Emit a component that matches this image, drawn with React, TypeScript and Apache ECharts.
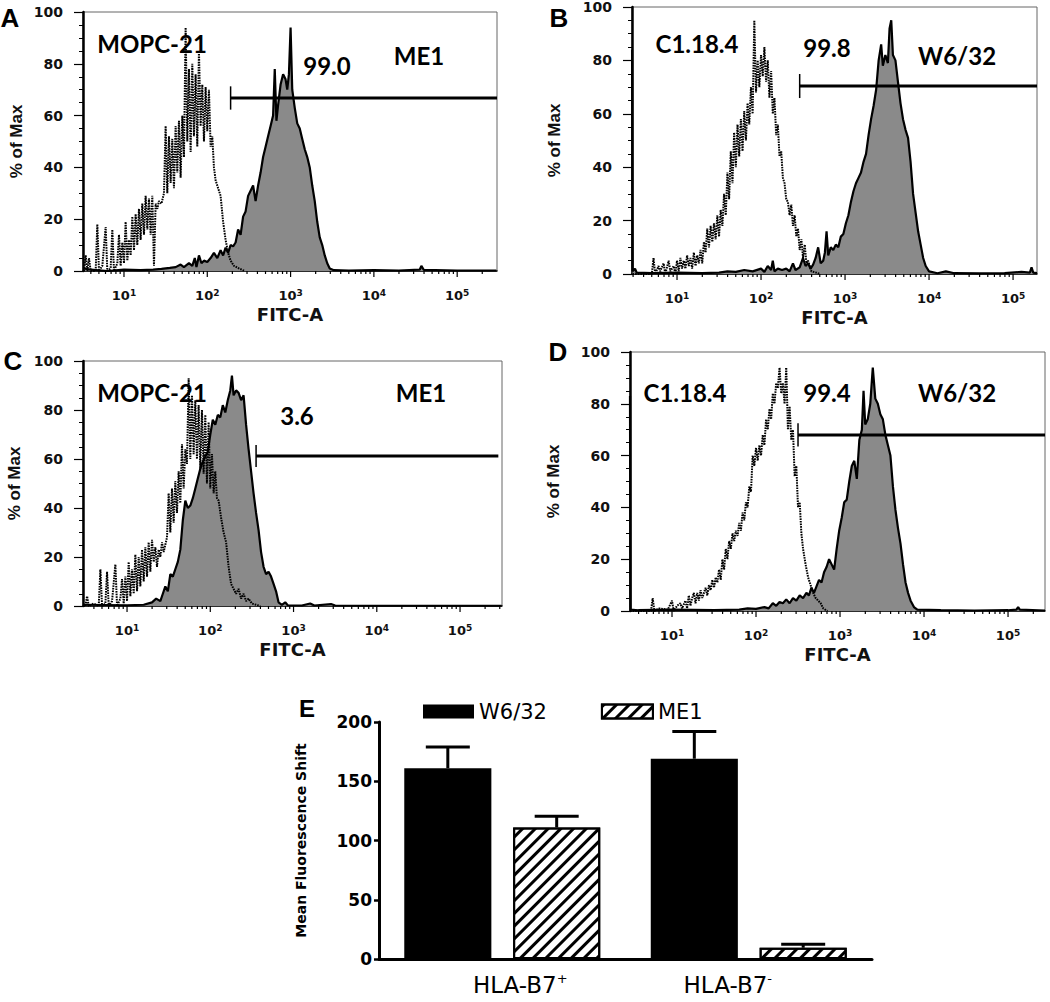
import React, { useEffect, useRef } from 'react';
import * as echarts from 'echarts';

// ---------- Histogram data: [log10(FITC-A), % of Max] ----------
// Panel A isotype (MOPC-21, dotted)
const isoA: number[][] = [
  [0.52, 0], [0.54, 6], [0.56, 0], [0.58, 5], [0.60, 0], [0.66, 0], [0.68, 18], [0.70, 0], [0.74, 2], [0.78, 17],
  [0.80, 0], [0.84, 1], [0.86, 16], [0.88, 0], [0.92, 3], [0.94, 14], [0.96, 2], [0.98, 11], [1.00, 3], [1.02, 19],
  [1.04, 4], [1.06, 12], [1.08, 6], [1.10, 21], [1.12, 8], [1.14, 22], [1.16, 10], [1.18, 24], [1.20, 12], [1.22, 26],
  [1.24, 14], [1.26, 29], [1.28, 16], [1.30, 28], [1.32, 14], [1.34, 29], [1.36, 2], [1.38, 26], [1.40, 24], [1.42, 27],
  [1.45, 26], [1.48, 30], [1.50, 56], [1.52, 30], [1.54, 52], [1.56, 34], [1.58, 51], [1.60, 32], [1.62, 56], [1.64, 38],
  [1.66, 58], [1.68, 36], [1.70, 60], [1.72, 44], [1.74, 94], [1.76, 50], [1.78, 78], [1.80, 46], [1.82, 80], [1.84, 52],
  [1.86, 76], [1.88, 48], [1.90, 85], [1.92, 56], [1.94, 72], [1.96, 50], [1.98, 71], [2.00, 54], [2.02, 70], [2.04, 48],
  [2.06, 52], [2.08, 40], [2.10, 35], [2.13, 32], [2.16, 29], [2.19, 19], [2.22, 12], [2.25, 7], [2.28, 4], [2.32, 2],
  [2.38, 1], [2.45, 0],
];
// Panel A specific (ME1, filled)
const specA: number[][] = [
  [0.52, 1], [0.6, 0.5], [0.8, 0], [1.0, 0.5], [1.2, 0.3], [1.35, 0.5], [1.45, 0.8], [1.55, 1.2], [1.62, 1.5], [1.68, 2.5],
  [1.72, 1.5], [1.78, 3], [1.82, 2], [1.85, 5], [1.87, 1.5], [1.9, 6], [1.93, 3], [1.96, 4], [2.0, 3.5], [2.04, 5],
  [2.08, 7], [2.12, 5], [2.16, 8], [2.19, 6], [2.22, 9], [2.25, 7], [2.28, 10], [2.31, 9.5], [2.34, 11], [2.37, 16],
  [2.40, 14], [2.43, 21], [2.46, 23], [2.49, 29], [2.52, 31], [2.55, 33], [2.58, 27], [2.61, 33], [2.64, 38], [2.67, 44],
  [2.70, 48], [2.73, 52], [2.76, 56], [2.79, 60], [2.81, 78], [2.83, 58], [2.85, 64], [2.88, 72], [2.91, 76], [2.94, 74],
  [2.96, 70], [2.98, 76], [3.00, 94], [3.02, 70], [3.05, 63], [3.08, 57], [3.11, 55], [3.14, 51], [3.17, 47], [3.20, 44],
  [3.23, 40], [3.26, 33], [3.29, 27], [3.32, 19], [3.35, 13], [3.38, 10], [3.41, 6], [3.44, 3], [3.47, 1], [3.52, 0.3],
  [3.7, 0.2], [4.0, 0.3], [4.3, 0.2], [4.55, 0.5], [4.57, 2], [4.6, 0.4], [5.0, 0.2], [5.47, 0.2],
];
// Panel B isotype (C1.18.4, dotted)
const isoB: number[][] = [
  [0.47, 0], [0.7, 0], [0.72, 6], [0.74, 0], [0.78, 3], [0.80, 1], [0.84, 4], [0.86, 0], [0.90, 5], [0.92, 1],
  [0.96, 3], [0.98, 0], [1.00, 5], [1.02, 1], [1.04, 6], [1.06, 2], [1.08, 5], [1.10, 2], [1.12, 7], [1.14, 3],
  [1.16, 6], [1.18, 2], [1.20, 8], [1.22, 3], [1.24, 7], [1.26, 4], [1.28, 9], [1.30, 4], [1.32, 12], [1.34, 8],
  [1.36, 17], [1.38, 10], [1.40, 18], [1.42, 12], [1.44, 19], [1.46, 13], [1.48, 22], [1.50, 14], [1.52, 24], [1.54, 18],
  [1.56, 30], [1.58, 22], [1.60, 38], [1.62, 28], [1.64, 46], [1.66, 34], [1.68, 53], [1.70, 40], [1.72, 56], [1.74, 44],
  [1.76, 58], [1.78, 46], [1.80, 61], [1.82, 50], [1.84, 64], [1.86, 56], [1.88, 70], [1.90, 60], [1.92, 95], [1.94, 68],
  [1.96, 80], [1.98, 70], [2.00, 82], [2.02, 74], [2.04, 85], [2.06, 72], [2.08, 80], [2.10, 66], [2.12, 76], [2.14, 60],
  [2.16, 66], [2.18, 52], [2.20, 56], [2.22, 44], [2.24, 46], [2.26, 36], [2.28, 34], [2.30, 28], [2.32, 27], [2.34, 22],
  [2.36, 26], [2.38, 18], [2.40, 22], [2.42, 14], [2.44, 17], [2.46, 9], [2.48, 13], [2.50, 6], [2.52, 11], [2.54, 4],
  [2.56, 5], [2.6, 1], [2.66, 0.5], [2.7, 0],
];
// Panel B specific (W6/32, filled)
const specB: number[][] = [
  [0.465, 84], [0.47, 1], [0.5, 2], [0.52, 0.5], [0.7, 0.3], [1.0, 0.5], [1.3, 0.3], [1.5, 0.5], [1.6, 1], [1.7, 0.8],
  [1.8, 1.5], [1.9, 1], [2.0, 2], [2.04, 0.8], [2.08, 3], [2.12, 1.5], [2.14, 5], [2.16, 1], [2.2, 2], [2.25, 1.5],
  [2.3, 2], [2.34, 1], [2.38, 4], [2.41, 1.5], [2.46, 2.5], [2.50, 6], [2.53, 3], [2.56, 4], [2.59, 2], [2.62, 3.5],
  [2.65, 6], [2.68, 10], [2.71, 4], [2.74, 5], [2.76, 8], [2.78, 16], [2.80, 7], [2.83, 10], [2.86, 9], [2.89, 11],
  [2.92, 10], [2.95, 14], [2.98, 15], [3.01, 19], [3.04, 22], [3.07, 27], [3.10, 31], [3.13, 34], [3.16, 36], [3.19, 38],
  [3.22, 42], [3.25, 45], [3.28, 52], [3.31, 58], [3.34, 63], [3.37, 69], [3.40, 80], [3.43, 86], [3.45, 78], [3.48, 82],
  [3.51, 79], [3.53, 92], [3.55, 95], [3.57, 82], [3.60, 80], [3.63, 72], [3.66, 64], [3.69, 58], [3.72, 54], [3.75, 51],
  [3.78, 42], [3.81, 30], [3.84, 23], [3.87, 16], [3.90, 11], [3.93, 6], [3.96, 3], [4.0, 1], [4.1, 0.3], [4.2, 1],
  [4.3, 0.3], [4.6, 0.2], [4.9, 0.3], [5.1, 0.8], [5.2, 0.5], [5.22, 2.5], [5.24, 0.5], [5.285, 0.3],
];
// Panel C isotype (MOPC-21, dotted)
const isoC: number[][] = [
  [0.47, 0], [0.50, 0], [0.52, 4], [0.54, 0], [0.6, 1], [0.66, 0], [0.68, 15], [0.70, 0], [0.74, 1], [0.76, 14],
  [0.78, 0], [0.82, 2], [0.86, 17], [0.88, 0], [0.92, 3], [0.94, 11], [0.96, 1], [0.98, 12], [1.00, 2], [1.02, 18],
  [1.04, 4], [1.06, 15], [1.08, 5], [1.10, 21], [1.12, 6], [1.14, 20], [1.16, 8], [1.18, 23], [1.20, 10], [1.22, 24],
  [1.24, 12], [1.26, 26], [1.28, 14], [1.30, 27], [1.32, 18], [1.34, 24], [1.36, 16], [1.38, 23], [1.40, 20], [1.42, 26],
  [1.44, 22], [1.46, 25], [1.48, 28], [1.50, 46], [1.52, 30], [1.54, 48], [1.56, 34], [1.58, 51], [1.60, 38], [1.62, 55],
  [1.64, 42], [1.66, 66], [1.68, 48], [1.70, 64], [1.72, 58], [1.74, 93], [1.76, 60], [1.78, 86], [1.80, 62], [1.82, 84],
  [1.84, 60], [1.86, 82], [1.88, 56], [1.90, 80], [1.92, 54], [1.94, 78], [1.96, 50], [1.98, 75], [2.00, 48], [2.02, 62],
  [2.04, 46], [2.06, 55], [2.08, 44], [2.10, 43], [2.13, 36], [2.16, 30], [2.19, 26], [2.22, 16], [2.25, 9], [2.28, 7],
  [2.31, 5], [2.34, 7], [2.37, 3], [2.40, 5], [2.43, 2], [2.46, 3], [2.5, 1], [2.55, 0.5], [2.6, 0],
];
// Panel C specific (ME1, filled)
const specC: number[][] = [
  [0.47, 0.5], [1.0, 0.3], [1.2, 0.5], [1.3, 1.5], [1.35, 3], [1.40, 2], [1.43, 5], [1.46, 8], [1.49, 6], [1.52, 13],
  [1.55, 12], [1.58, 15], [1.61, 18], [1.64, 23], [1.67, 35], [1.70, 43], [1.73, 40], [1.76, 41], [1.79, 44], [1.82, 48],
  [1.85, 52], [1.88, 56], [1.91, 59], [1.94, 61], [1.97, 63], [2.00, 70], [2.03, 76], [2.06, 74], [2.09, 78], [2.12, 77],
  [2.15, 82], [2.18, 79], [2.21, 84], [2.24, 88], [2.26, 94], [2.28, 86], [2.31, 88], [2.34, 87], [2.37, 84], [2.40, 86],
  [2.43, 74], [2.46, 64], [2.49, 55], [2.52, 46], [2.55, 38], [2.58, 31], [2.61, 22], [2.64, 16], [2.67, 13], [2.70, 14],
  [2.73, 12], [2.76, 9], [2.79, 6], [2.82, 1.5], [2.86, 0.5], [2.9, 1.5], [2.93, 0.3], [3.1, 0.2], [3.2, 1], [3.25, 0.2],
  [3.45, 0.8], [3.5, 0.2], [4.0, 0.1], [5.5, 0.1],
];
// Panel D isotype (C1.18.4, dotted)
const isoD: number[][] = [
  [0.5, 0], [0.75, 0], [0.77, 5], [0.79, 0], [0.85, 1], [0.95, 0.5], [1.00, 4], [1.02, 0], [1.06, 2], [1.10, 3],
  [1.12, 1], [1.16, 4], [1.18, 1], [1.20, 6], [1.22, 2], [1.24, 5], [1.26, 7], [1.28, 3], [1.30, 7], [1.32, 4],
  [1.34, 8], [1.36, 5], [1.38, 7], [1.40, 9], [1.42, 6], [1.44, 10], [1.46, 8], [1.48, 12], [1.50, 9], [1.52, 13],
  [1.54, 11], [1.56, 16], [1.58, 12], [1.60, 20], [1.62, 16], [1.64, 24], [1.66, 20], [1.68, 27], [1.70, 24], [1.72, 30],
  [1.74, 27], [1.76, 31], [1.78, 29], [1.80, 34], [1.82, 31], [1.84, 38], [1.86, 35], [1.88, 42], [1.90, 40], [1.92, 48],
  [1.94, 46], [1.96, 60], [1.98, 56], [2.00, 63], [2.02, 58], [2.04, 64], [2.06, 60], [2.08, 68], [2.10, 64], [2.12, 74],
  [2.14, 70], [2.16, 78], [2.18, 74], [2.20, 84], [2.22, 80], [2.24, 88], [2.26, 86], [2.28, 94], [2.30, 84], [2.32, 88],
  [2.34, 80], [2.36, 94], [2.38, 70], [2.40, 79], [2.42, 66], [2.44, 70], [2.46, 52], [2.48, 56], [2.50, 40], [2.52, 42],
  [2.54, 30], [2.56, 24], [2.59, 18], [2.62, 13], [2.65, 10], [2.68, 7], [2.71, 5], [2.74, 4], [2.77, 3], [2.8, 1],
  [2.85, 0],
];
// Panel D specific (W6/32, filled)
const specD: number[][] = [
  [0.5, 83], [0.505, 0.5], [0.6, 0.3], [1.0, 0.5], [1.5, 0.3], [1.8, 0.5], [1.9, 1], [2.0, 0.8], [2.1, 1.5], [2.15, 1],
  [2.2, 3], [2.24, 2], [2.28, 3.5], [2.32, 3], [2.36, 4.5], [2.40, 3], [2.44, 5], [2.48, 4], [2.52, 6], [2.56, 5],
  [2.60, 7], [2.63, 6], [2.66, 9], [2.69, 7], [2.72, 9.5], [2.75, 12], [2.78, 11], [2.81, 15], [2.84, 17], [2.87, 20],
  [2.90, 18], [2.93, 16], [2.96, 24], [2.99, 31], [3.02, 36], [3.05, 42], [3.08, 43], [3.11, 50], [3.14, 56], [3.17, 58],
  [3.20, 51], [3.23, 66], [3.26, 70], [3.28, 85], [3.30, 72], [3.33, 74], [3.36, 80], [3.39, 94], [3.42, 82], [3.45, 80],
  [3.48, 76], [3.51, 74], [3.54, 68], [3.57, 64], [3.60, 60], [3.63, 48], [3.66, 39], [3.69, 32], [3.72, 26], [3.75, 18],
  [3.78, 11], [3.81, 7], [3.84, 4], [3.88, 1.5], [3.92, 0.5], [4.2, 0.3], [4.6, 0.2], [5.0, 0.3], [5.1, 0.5], [5.12, 1.5],
  [5.14, 0.5], [5.44, 0.2],
];

// Gates (log10 start, log10 end, % of Max level) and their labels
const gateStarts = [2.28, 2.46, 2.55, 2.5];
const gateEnds = [5.478, 5.285, 5.46, 5.44];
const gateLevels = [66.8, 70.4, 61.2, 68];
const gateLabels = ['99.0', '99.8', '3.6', '99.4'];
const isotypeLabels = ['MOPC-21', 'C1.18.4', 'MOPC-21', 'C1.18.4'];
const antibodyLabels = ['ME1', 'W6/32', 'ME1', 'W6/32'];
const panelLetters = ['A', 'B', 'C', 'D'];

// Axis ticks
const decadeExponents = [1, 2, 3, 4, 5];
const minorMultipliers = [2, 3, 4, 5, 6, 7, 8, 9];
const minorDecades = [0, 1, 2, 3, 4, 5];
const pctTicks = [0, 20, 40, 60, 80, 100];

// ---------- Bar chart (E) ----------
const barCategories = ['HLA-B7+', 'HLA-B7-'];
const w632Values = [161, 169];
const w632Errors = [18, 23];
const me1Values = [111, 9.5];
const me1Errors = [9.5, 3];

// ---------- Layout ----------
const panelGrids = [
  { left: 83, top: 12, width: 414, height: 259 },
  { left: 632, top: 7, width: 405, height: 267 },
  { left: 83, top: 361, width: 419, height: 245 },
  { left: 630, top: 352, width: 415, height: 259 },
];
const panelLogMin = [0.508, 0.464, 0.471, 0.5];
const panelLogMax = [5.478, 5.285, 5.504, 5.44];
const yNameGaps = [58, 69, 60, 68];
const letterPos = [[10, 18], [559, 18], [13, 361], [558, 352]];
const isoPos = [[152, 43], [697, 43], [152, 392], [685, 392]];
const gatePos = [[327, 65], [827, 47], [297, 415], [827, 392]];
const abPos = [[419, 55], [957, 55], [421, 392], [957, 392]];
const catLabelPadding = [[0, 0, 0, 36], [0, 42, 0, 0]];

const BOLD_AXIS = 'DejaVu Sans';
const BAR_CAT_GAP = 0.205;
const BAR_GAP = 0.25;

function buildOption(): any {
  const grids: any[] = [];
  const xAxes: any[] = [];
  const yAxes: any[] = [];
  const series: any[] = [];
  const graphics: any[] = [];

  panelGrids.forEach((g, i) => {
    grids.push({ ...g, show: true, borderColor: '#666', borderWidth: 1, backgroundColor: '#fff', containLabel: false, outerBoundsMode: 'none' });
    xAxes.push({
      type: 'value', gridIndex: i, min: panelLogMin[i], max: panelLogMax[i],
      axisLine: { show: true, onZero: false, lineStyle: { color: '#000', width: 1.5 } },
      axisTick: { show: false }, axisLabel: { show: false }, splitLine: { show: false },
      name: 'FITC-A', nameLocation: 'middle', nameGap: 34,
      nameTextStyle: { fontFamily: BOLD_AXIS, fontWeight: 'bold', fontSize: 18, color: '#111' },
    });
    yAxes.push({
      type: 'value', gridIndex: i, min: pctTicks[0], max: pctTicks[pctTicks.length - 1], interval: 20,
      axisLine: { show: true, lineStyle: { color: '#000', width: 2.5 } },
      axisTick: { show: true, length: 9, lineStyle: { color: '#000', width: 1.2 } },
      minorTick: { show: true, splitNumber: 4, length: 4, lineStyle: { color: '#000', width: 1 } },
      splitLine: { show: false },
      axisLabel: { fontFamily: BOLD_AXIS, fontWeight: 'bold', fontSize: 14, color: '#111', margin: 20 },
      name: '% of Max', nameLocation: 'middle', nameRotate: 90, nameGap: yNameGaps[i],
      nameTextStyle: { fontFamily: 'Liberation Sans Narrow, Liberation Sans', fontWeight: 'bold', fontSize: 17, color: '#111' },
    });

    const spec = [specA, specB, specC, specD][i];
    const iso = [isoA, isoB, isoC, isoD][i];
    series.push({
      type: 'line', xAxisIndex: i, yAxisIndex: i, data: spec, showSymbol: false, z: 2,
      lineStyle: { color: '#000', width: 2.2 }, areaStyle: { color: '#8a8a8a', opacity: 1 },
    });
    series.push({
      type: 'line', xAxisIndex: i, yAxisIndex: i, data: iso, showSymbol: false, z: 3,
      lineStyle: { color: '#000', width: 2, type: [1.6, 1] },
    });
    // gate
    series.push({
      type: 'custom', xAxisIndex: i, yAxisIndex: i, z: 4, clip: false,
      data: [[gateStarts[i], gateEnds[i], gateLevels[i]]],
      renderItem: (params: any, api: any) => {
        const s = api.value(0), e = api.value(1), lv = api.value(2);
        const p1 = api.coord([s, lv]);
        const p2 = api.coord([e, lv]);
        const t1 = api.coord([s, lv + 4.5]);
        const t2 = api.coord([s, lv - 4.5]);
        return {
          type: 'group', children: [
            { type: 'line', shape: { x1: p1[0], y1: p1[1], x2: p2[0], y2: p2[1] }, style: { stroke: '#000', lineWidth: 3 } },
            { type: 'line', shape: { x1: t1[0], y1: t1[1], x2: t2[0], y2: t2[1] }, style: { stroke: '#000', lineWidth: 1.5 } },
          ],
        };
      },
    });
    // log ticks and labels
    const tickData: number[][] = [];
    decadeExponents.forEach((n) => tickData.push([n, 1, n]));
    minorDecades.forEach((n) => minorMultipliers.forEach((k) => {
      const v = n + Math.log10(k);
      if (v > panelLogMin[i] + 0.01 && v < panelLogMax[i] - 0.01) tickData.push([v, 0, 0]);
    }));
    series.push({
      type: 'custom', xAxisIndex: i, yAxisIndex: i, z: 5, clip: false, data: tickData,
      renderItem: (params: any, api: any) => {
        const x = api.value(0);
        const major = api.value(1);
        const exp = api.value(2);
        const p = api.coord([x, 0]);
        const children: any[] = [
          { type: 'line', shape: { x1: p[0], y1: p[1], x2: p[0], y2: p[1] + (major ? 6 : 3) }, style: { stroke: '#000', lineWidth: 1.2 } },
        ];
        if (major) {
          children.push({
            type: 'text', x: p[0], y: p[1] + 24,
            style: {
              text: '{b|10}{s|' + exp + '}', align: 'center', verticalAlign: 'middle',
              rich: {
                b: { fontFamily: BOLD_AXIS, fontWeight: 'bold', fontSize: 13, fill: '#111' },
                s: { fontFamily: BOLD_AXIS, fontWeight: 'bold', fontSize: 9, fill: '#111', verticalAlign: 'top' },
              },
            },
          });
        }
        return { type: 'group', children };
      },
    });

    graphics.push({ type: 'text', x: letterPos[i][0], y: letterPos[i][1], style: { text: panelLetters[i], fontFamily: 'Liberation Sans', fontWeight: 'bold', fontSize: 26, fill: '#000', align: 'center', verticalAlign: 'middle' } });
    graphics.push({ type: 'text', x: isoPos[i][0], y: isoPos[i][1], style: { text: isotypeLabels[i], fontFamily: 'Lato', fontWeight: 'bold', fontSize: 24, fill: '#000', align: 'center', verticalAlign: 'middle' } });
    graphics.push({ type: 'text', x: gatePos[i][0], y: gatePos[i][1], style: { text: gateLabels[i], fontFamily: 'Lato', fontWeight: 'bold', fontSize: 24, fill: '#000', align: 'center', verticalAlign: 'middle' } });
    graphics.push({ type: 'text', x: abPos[i][0], y: abPos[i][1], style: { text: antibodyLabels[i], fontFamily: 'Lato', fontWeight: 'bold', fontSize: 24, fill: '#000', align: 'center', verticalAlign: 'middle' } });
  });

  // ---------- Bar chart E ----------
  const bi = 4;
  grids.push({ left: 379, top: 722, width: 493, height: 237, containLabel: false, outerBoundsMode: 'none' });
  xAxes.push({
    type: 'category', gridIndex: bi, data: barCategories,
    axisLine: { lineStyle: { color: '#000', width: 3 } },
    axisTick: { alignWithLabel: true, length: 7, lineStyle: { color: '#000', width: 3 } },
    axisLabel: {
      margin: 13, color: '#000',
      formatter: (v: string) => {
        const k = barCategories.indexOf(v);
        return '{a' + k + '|' + v.slice(0, -1) + '}{s' + k + '|' + v.slice(-1) + '}';
      },
      rich: {
        a0: { fontFamily: 'DejaVu Sans', fontSize: 23, lineHeight: 25, color: '#000', padding: catLabelPadding[0] },
        s0: { fontFamily: 'DejaVu Sans', fontSize: 13, color: '#000', verticalAlign: 'top' },
        a1: { fontFamily: 'DejaVu Sans', fontSize: 23, lineHeight: 25, color: '#000' },
        s1: { fontFamily: 'DejaVu Sans', fontSize: 13, color: '#000', verticalAlign: 'top', padding: catLabelPadding[1] },
      },
    },
  });
  yAxes.push({
    type: 'value', gridIndex: bi, min: 0, max: 200, interval: 50,
    axisLine: { show: true, lineStyle: { color: '#000', width: 3 } },
    axisTick: { show: true, length: 5, lineStyle: { color: '#000', width: 2.5 } },
    splitLine: { show: false },
    axisLabel: { fontFamily: BOLD_AXIS, fontWeight: 'bold', fontSize: 17, color: '#000', margin: 7 },
    name: 'Mean Fluorescence Shift', nameLocation: 'middle', nameRotate: 90, nameGap: 71,
    nameTextStyle: { fontFamily: BOLD_AXIS, fontWeight: 'bold', fontSize: 14, color: '#000' },
  });
  series.push({
    name: 'W6/32', type: 'bar', xAxisIndex: bi, yAxisIndex: bi, data: w632Values,
    barGap: BAR_GAP * 100 + '%', barCategoryGap: BAR_CAT_GAP * 100 + '%', itemStyle: { color: '#000' },
  });
  series.push({
    name: 'ME1', type: 'bar', xAxisIndex: bi, yAxisIndex: bi, data: me1Values,
    barGap: BAR_GAP * 100 + '%', barCategoryGap: BAR_CAT_GAP * 100 + '%',
    itemStyle: {
      color: '#fff', borderColor: '#000', borderWidth: 2,
      decal: { symbol: 'rect', color: '#000', backgroundColor: '#fff', dashArrayX: [1, 0], dashArrayY: [2.8, 5.5], rotation: -Math.PI / 4 },
    },
  });
  const errData: number[][] = [];
  w632Values.forEach((v, k) => errData.push([k, v, w632Errors[k], 0]));
  me1Values.forEach((v, k) => errData.push([k, v, me1Errors[k], 1]));
  series.push({
    type: 'custom', xAxisIndex: bi, yAxisIndex: bi, z: 5, clip: false, data: errData,
    encode: { x: 0, y: 1 },
    renderItem: (params: any, api: any) => {
      const cat = api.value(0), v = api.value(1), e = api.value(2), s = api.value(3);
      const base = api.coord([cat, v]);
      const top = api.coord([cat, v + e]);
      const band = api.size([1, 0])[0];
      const bw = (band * (1 - BAR_CAT_GAP)) / (2 + BAR_GAP);
      const off = ((bw * (1 + BAR_GAP)) / 2) * (s === 0 ? -1 : 1);
      const cx = base[0] + off;
      const half = 22;
      return {
        type: 'group', children: [
          { type: 'line', shape: { x1: cx, y1: base[1], x2: cx, y2: top[1] }, style: { stroke: '#000', lineWidth: 3 } },
          { type: 'line', shape: { x1: cx - half, y1: top[1], x2: cx + half, y2: top[1] }, style: { stroke: '#000', lineWidth: 3 } },
        ],
      };
    },
  });
  graphics.push({ type: 'text', x: 307, y: 708, style: { text: 'E', fontFamily: 'Liberation Sans', fontWeight: 'bold', fontSize: 24, fill: '#000', align: 'center', verticalAlign: 'middle' } });

  return {
    animation: false,
    backgroundColor: '#fff',
    grid: grids,
    xAxis: xAxes,
    yAxis: yAxes,
    series,
    graphic: graphics,
    legend: {
      data: ['W6/32', 'ME1'], left: 418, top: 696, itemWidth: 51, itemHeight: 14, itemGap: 54, icon: 'rect',
      textStyle: { fontFamily: 'DejaVu Sans', fontSize: 21, color: '#000' },
    },
  };
}

export default function App() {
  const ref = useRef<HTMLDivElement>(null);
  useEffect(() => {
    if (!ref.current) return;
    const chart = echarts.init(ref.current, undefined, { renderer: 'svg' });
    chart.setOption(buildOption());
    return () => chart.dispose();
  }, []);
  return <div ref={ref} style={{ position: 'absolute', left: 0, top: 0, width: 1050, height: 1002, background: '#fff' }} />;
}
